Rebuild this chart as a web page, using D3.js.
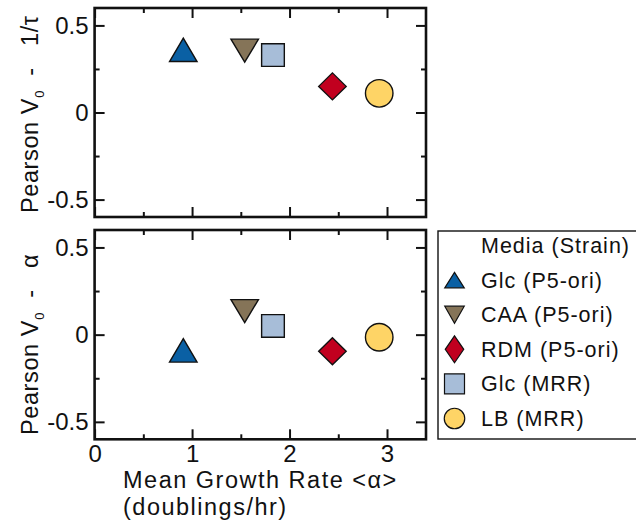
<!DOCTYPE html>
<html>
<head>
<meta charset="utf-8">
<script src="https://cdn.jsdelivr.net/npm/d3@7"></script>
<style>
  html, body { margin: 0; padding: 0; background: #fff; }
  svg text { font-family: "Liberation Sans", Arial, sans-serif; fill: #111; }
</style>
</head>
<body>
<svg id="chart" width="636" height="531"></svg>
<script>
// Media / strain series
const media = ["Glc (P5-ori)", "CAA (P5-ori)", "RDM (P5-ori)", "Glc (MRR)", "LB (MRR)"];
const shapes = ["triangle", "triangleDown", "diamond", "square", "circle"];
const colors = ["#0a60a4", "#857458", "#c1001f", "#a7bdd8", "#fed466"];

// Mean growth rate <α> (doublings/hr)
const meanGrowth = [0.91, 1.54, 2.44, 1.83, 2.92];
// Pearson correlation of V0 with 1/τ and with α
const pearsonTau = [0.36, 0.355, 0.15, 0.33, 0.11];
const pearsonAlpha = [-0.09, 0.135, -0.095, 0.05, -0.015];

// Axis ticks
const xMajor = [0, 1, 2, 3];
const xMinor = [0.5, 1.5, 2.5];
const xTickLabels = ["0", "1", "2", "3"];
const yMajor = [-0.5, 0, 0.5];
const yMinor = [-0.25, 0.25];
const yTickLabels = ["-0.5", "0", "0.5"];

const svg = d3.select("#chart");
const left = 94.6, right = 426;
const x = d3.scaleLinear().domain([0, 3.4]).range([left, right]);

// marker outline centred on (0,0), w x h bounding box
function markerPath(shape, w, h) {
  const p = d3.path();
  const a = w / 2, b = h / 2;
  if (shape === "triangle") {
    p.moveTo(0, -b); p.lineTo(a, b); p.lineTo(-a, b); p.closePath();
  } else if (shape === "triangleDown") {
    p.moveTo(-a, -b); p.lineTo(a, -b); p.lineTo(0, b); p.closePath();
  } else if (shape === "diamond") {
    p.moveTo(0, -b); p.lineTo(a, 0); p.lineTo(0, b); p.lineTo(-a, 0); p.closePath();
  } else if (shape === "square") {
    p.rect(-a, -b, w, h);
  } else {
    p.moveTo(a, 0); p.arc(0, 0, a, 0, 2 * Math.PI); p.closePath();
  }
  return p.toString();
}
const plotSize = {
  triangle: [27.5, 23.5], triangleDown: [27.5, 23], diamond: [27.5, 27],
  square: [22.7, 22.7], circle: [27.5, 27.5]
};
const legendSize = {
  triangle: [19.5, 15.5], triangleDown: [19.5, 17], diamond: [18.5, 27],
  square: [20, 20], circle: [20.5, 20.5]
};

function panel(top, bottom, values, showXLabels) {
  const y = d3.scaleLinear().domain([-0.6, 0.6]).range([bottom, top]);
  const g = svg.append("g");

  const fmtY = v => yTickLabels[yMajor.indexOf(v)];
  const fmtX = v => xTickLabels[xMajor.indexOf(v)];

  // major ticks, labelled on left (and bottom when requested)
  g.append("g").attr("transform", `translate(${left},0)`)
    .call(d3.axisLeft(y).tickValues(yMajor).tickSize(-10).tickPadding(6).tickFormat(fmtY));
  g.append("g").attr("transform", `translate(${right},0)`)
    .call(d3.axisRight(y).tickValues(yMajor).tickSize(-10).tickFormat(""));
  g.append("g").attr("transform", `translate(0,${top})`)
    .call(d3.axisTop(x).tickValues(xMajor).tickSize(-10).tickFormat(""));
  g.append("g").attr("transform", `translate(0,${bottom})`)
    .call(d3.axisBottom(x).tickValues(xMajor).tickSize(-10).tickPadding(6)
      .tickFormat(showXLabels ? fmtX : ""));

  // minor ticks
  g.append("g").attr("transform", `translate(${left},0)`)
    .call(d3.axisLeft(y).tickValues(yMinor).tickSize(-5).tickFormat(""));
  g.append("g").attr("transform", `translate(${right},0)`)
    .call(d3.axisRight(y).tickValues(yMinor).tickSize(-5).tickFormat(""));
  g.append("g").attr("transform", `translate(0,${top})`)
    .call(d3.axisTop(x).tickValues(xMinor).tickSize(-5).tickFormat(""));
  g.append("g").attr("transform", `translate(0,${bottom})`)
    .call(d3.axisBottom(x).tickValues(xMinor).tickSize(-5).tickFormat(""));

  g.selectAll(".domain").remove();
  g.selectAll(".tick line").attr("stroke", "#111").attr("stroke-width", 2);
  g.selectAll(".tick text")
    .style("font-size", "24px")
    .attr("fill", "#111");

  g.append("rect")
    .attr("x", left).attr("y", top)
    .attr("width", right - left).attr("height", bottom - top)
    .attr("fill", "none").attr("stroke", "#111").attr("stroke-width", 2.6);

  g.selectAll("path.pt").data(values).join("path")
    .attr("class", "pt")
    .attr("transform", (d, i) => `translate(${x(meanGrowth[i])},${y(d)})`)
    .attr("d", (d, i) => markerPath(shapes[i], ...plotSize[shapes[i]]))
    .attr("fill", (d, i) => colors[i])
    .attr("stroke", "#111").attr("stroke-width", 1.4)
    .attr("stroke-linejoin", "miter");
  return y;
}

panel(8, 217, pearsonTau, false);
panel(230, 439.3, pearsonAlpha, true);

// rotated y titles
function yTitle(startY, tail) {
  const t = svg.append("text")
    .attr("transform", `translate(38,${startY}) rotate(-90)`)
    .style("font-size", "23.5px").style("letter-spacing", "0.6px");
  t.append("tspan").text("Pearson V");
  t.append("tspan").attr("dy", 6).style("font-size", "13px").text("0");
  t.append("tspan").attr("dy", -6).text(tail);
}
yTitle(213, "\u00a0\u00a0-\u00a0\u00a0\u00a01/\u03c4");
yTitle(435, "\u00a0\u00a0-\u00a0\u00a0\u00a0\u03b1");

// x title
svg.append("text").attr("x", 123).attr("y", 488)
  .style("font-size", "23.5px").style("letter-spacing", "1.5px")
  .text("Mean Growth Rate <\u03b1>");
svg.append("text").attr("x", 123).attr("y", 515)
  .style("font-size", "23.5px").style("letter-spacing", "1.5px")
  .text("(doublings/hr)");

// legend
const lg = svg.append("g");
lg.append("rect").attr("x", 438).attr("y", 231).attr("width", 220).attr("height", 208)
  .attr("fill", "#fff").attr("stroke", "#111").attr("stroke-width", 1.4);
const rowY = i => 253 + 34.6 * i;
lg.append("text").attr("x", 481).attr("y", rowY(0))
  .style("font-size", "21.5px").style("letter-spacing", "1px")
  .text("Media (Strain)");
media.forEach((m, i) => {
  const by = rowY(i + 1);
  lg.append("path")
    .attr("transform", `translate(454.5,${by - 7.5})`)
    .attr("d", markerPath(shapes[i], ...legendSize[shapes[i]]))
    .attr("fill", colors[i]).attr("stroke", "#111").attr("stroke-width", 1.2);
  lg.append("text").attr("x", 481).attr("y", by)
    .style("font-size", "21.5px").style("letter-spacing", "1px")
    .text(m);
});
</script>
</body>
</html>
